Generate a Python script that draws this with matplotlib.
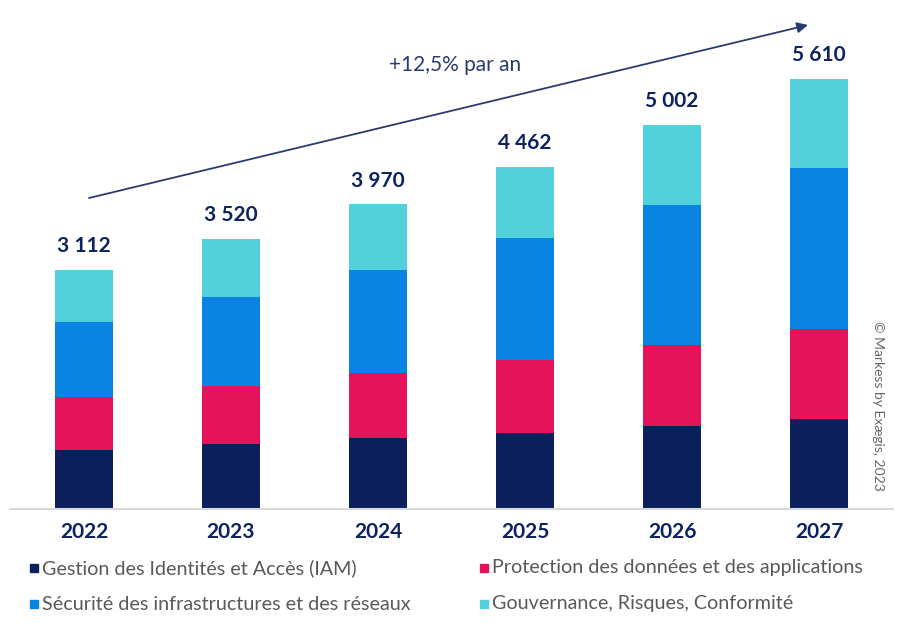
import matplotlib.pyplot as plt
from matplotlib.patches import Rectangle

plt.rcParams['font.family'] = ['Lato', 'DejaVu Sans']

# Données (en M€)
annees = ['2022', '2023', '2024', '2025', '2026', '2027']
totaux = [3112, 3520, 3970, 4462, 5002, 5610]
iam = [773, 848, 922, 987, 1079, 1177]
protection = [684, 762, 848, 955, 1055, 1173]
securite = [986, 1148, 1352, 1587, 1831, 2100]
gouvernance = [669, 762, 848, 933, 1037, 1160]

series = [
    ('Gestion des Identités et Accès (IAM)', iam, '#0a1f5c'),
    ('Protection des données et des applications', protection, '#e6135a'),
    ('Sécurité des infrastructures et des réseaux', securite, '#0984e3'),
    ('Gouvernance, Risques, Conformité', gouvernance, '#52d1dc'),
]
croissance = '+12,5% par an'
copyright_txt = '© Markess by Exægis, 2023'

navy = '#0d2260'

fig = plt.figure(figsize=(9.03, 6.36), dpi=100)
ax = fig.add_axes([10 / 903, (636 - 509) / 636, 883 / 903, 489 / 636])

x = list(range(len(annees)))
bas = [0] * len(annees)
for nom, vals, coul in series:
    ax.bar(x, vals, width=0.4, bottom=bas, color=coul, edgecolor='none')
    bas = [b + v for b, v in zip(bas, vals)]

for xi, t in zip(x, totaux):
    lab = f'{t:,}'.replace(',', ' ')
    ax.annotate(lab, (xi, t), xytext=(0, 10), textcoords='offset points',
                ha='center', va='bottom', fontsize=15, fontweight='bold', color=navy)

ax.set_xlim(-0.503, 5.503)
ax.set_ylim(0, 6375)
ax.set_xticks(x)
ax.set_xticklabels(annees, fontsize=15, fontweight='bold', color=navy)
ax.tick_params(axis='x', length=0, pad=9)
ax.set_yticks([])
for s in ['top', 'right', 'left']:
    ax.spines[s].set_visible(False)
ax.spines['bottom'].set_color('#d9d9d9')
ax.spines['bottom'].set_linewidth(1.5)

# flèche de croissance
ax.annotate('', xy=(808 / 903, 1 - 25 / 636), xytext=(89 / 903, 1 - 198 / 636),
            xycoords='figure fraction', textcoords='figure fraction',
            arrowprops=dict(arrowstyle='-|>', color='#2c3b6e', lw=1.3,
                            mutation_scale=16, shrinkA=0, shrinkB=0))
fig.text(455 / 903, 1 - 65 / 636, croissance, ha='center', va='center',
         fontsize=15, color='#2c3b6e')

fig.text(878 / 903, 1 - 406 / 636, copyright_txt, rotation=-90, ha='center',
         va='center', fontsize=10, color='#666666')

# légende (ligne 1 : IAM, Protection ; ligne 2 : Sécurité, Gouvernance)
pos = [(30, 568), (480, 568), (30, 604), (480, 604)]
for (nom, vals, coul), (px, py) in zip(series, pos):
    fig.add_artist(Rectangle((px / 903, 1 - (py + 4) / 636), 8 / 903, 8 / 636,
                             transform=fig.transFigure, color=coul))
    fig.text((px + 12) / 903, 1 - py / 636, nom, ha='left', va='center',
             fontsize=14.2, color='#595959')

fig.savefig('out.png', dpi=100)
